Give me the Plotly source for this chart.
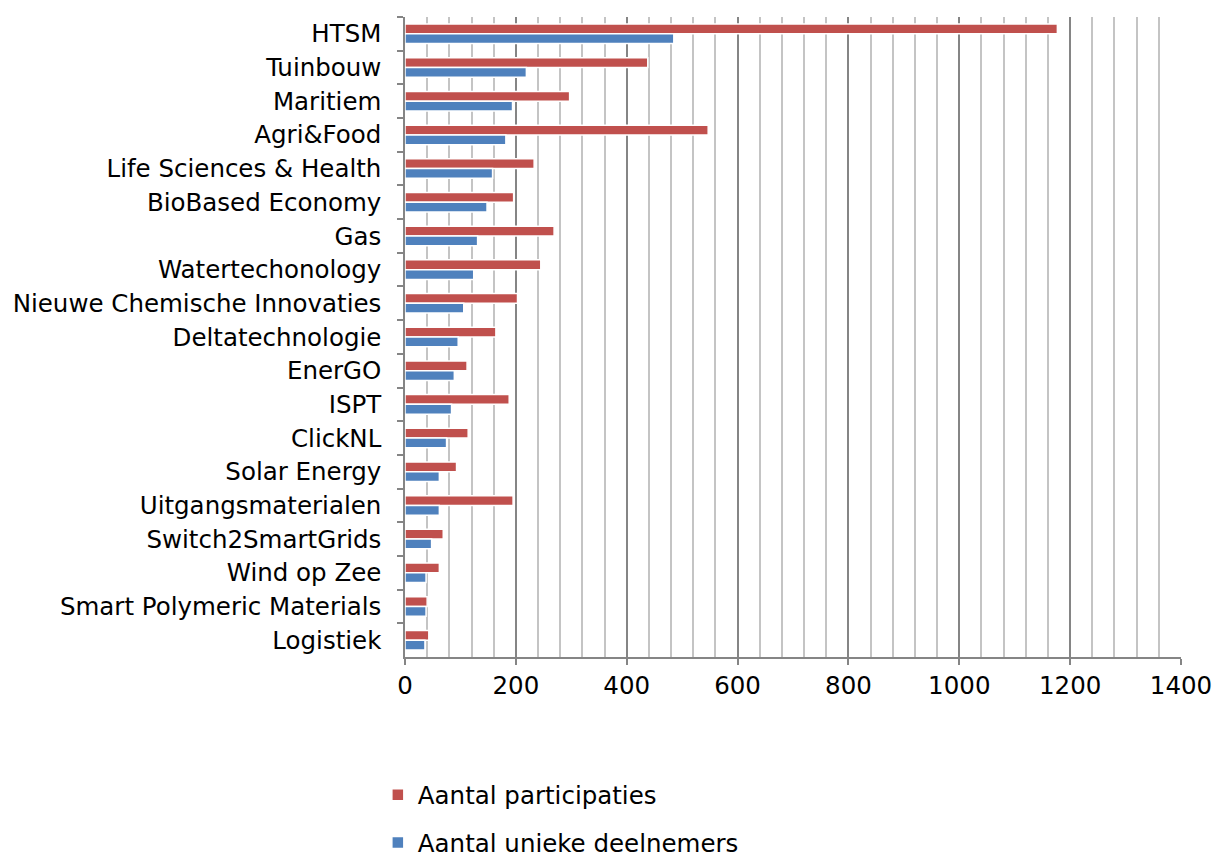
import plotly.graph_objects as go

categories = ["HTSM", "Tuinbouw", "Maritiem", "Agri&Food", "Life Sciences & Health",
              "BioBased Economy", "Gas", "Watertechonology", "Nieuwe Chemische Innovaties",
              "Deltatechnologie", "EnerGO", "ISPT", "ClickNL", "Solar Energy",
              "Uitgangsmaterialen", "Switch2SmartGrids", "Wind op Zee",
              "Smart Polymeric Materials", "Logistiek"]
participaties = [1177, 438, 297, 547, 233, 196, 269, 245, 203, 164, 112, 188, 114, 93,
                 195, 69, 62, 40, 43]
deelnemers = [485, 219, 194, 182, 158, 148, 131, 124, 106, 96, 89, 84, 75, 62, 62, 48,
              38, 38, 36]
x_ticks = [0, 200, 400, 600, 800, 1000, 1200, 1400]

FONT = "DejaVu Sans"
FS = 24.5

fig = go.Figure()
fig.add_trace(go.Bar(
    y=categories, x=participaties, orientation="h", name="Aantal participaties",
    marker=dict(color="#C0504D", line=dict(color="white", width=1.5)),
    legendgroup="a"))
fig.add_trace(go.Bar(
    y=categories, x=deelnemers, orientation="h", name="Aantal unieke deelnemers",
    marker=dict(color="#4F81BD", line=dict(color="white", width=1.5)),
    legendgroup="b"))

fig.update_layout(
    template="none",
    width=1216, height=857,
    margin=dict(l=405, r=35, t=17, b=200, autoexpand=False),
    paper_bgcolor="white", plot_bgcolor="white",
    barmode="group", bargap=0.42, bargroupgap=0.0,
    font=dict(family=FONT, size=FS, color="#000000"),
    legend=dict(x=-0.035, y=-0.18, xanchor="left", yanchor="top",
                orientation="v", traceorder="grouped", tracegroupgap=13,
                bgcolor="rgba(0,0,0,0)",
                font=dict(family=FONT, size=FS, color="#000000")),
)
fig.update_xaxes(
    range=[0, 1400], tickvals=x_ticks, ticktext=[str(v) for v in x_ticks],
    showgrid=True, gridcolor="#858585", gridwidth=1.5,
    minor=dict(dtick=40, tick0=0, showgrid=True, gridcolor="#C4C4C4", gridwidth=1.5),
    showline=True, linecolor="#858585", linewidth=1.5,
    ticks="outside", ticklen=6, tickcolor="#858585", tickwidth=1.5,
    zeroline=False, automargin=False,
    tickfont=dict(family=FONT, size=FS, color="#000000"),
)
fig.update_yaxes(
    categoryorder="array", categoryarray=categories, autorange="reversed",
    showline=True, linecolor="#858585", linewidth=1.5,
    ticks="outside", ticklen=6, tickcolor="#858585", tickwidth=1.5,
    tickson="boundaries", showgrid=False, ticklabelstandoff=17,
    zeroline=False, automargin=False,
    tickfont=dict(family=FONT, size=FS, color="#000000"),
)

fig.write_html(
    "out.html",
    config={"displayModeBar": False},
    post_script="document.body.style.margin='0';document.body.style.overflow='hidden';",
)
